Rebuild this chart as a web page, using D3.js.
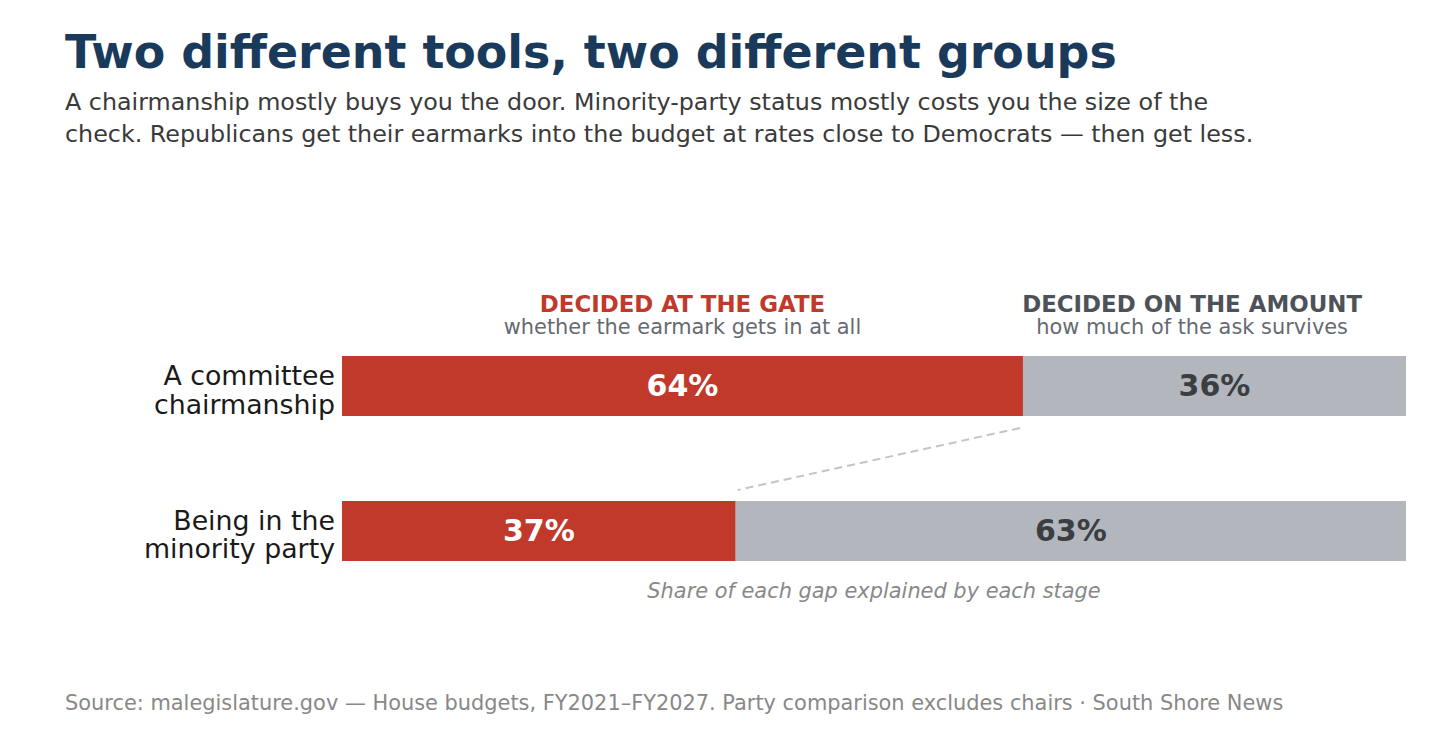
<!DOCTYPE html>
<html><head><meta charset="utf-8">
<script src="https://cdn.jsdelivr.net/npm/d3@7"></script>
<style>
body{margin:0;background:#fff;}
svg{display:block;font-family:"DejaVu Sans",sans-serif;}
</style></head>
<body>
<svg id="c" width="1456" height="735"></svg>
<script>
const categories = [["A committee","chairmanship"],["Being in the","minority party"]];
const gateShare = [64, 37];
const amountShare = [36, 63];
const stageTitles = ["DECIDED AT THE GATE","DECIDED ON THE AMOUNT"];
const stageSubs = ["whether the earmark gets in at all","how much of the ask survives"];

const svg = d3.select("#c");
const x = d3.scaleLinear().domain([0,100]).range([342,1406]);
const y = d3.scaleBand().domain([0,1]).range([356,561]).paddingInner(0.5862).paddingOuter(0);

const red = "#c0392b", grey = "#b3b7bd";

svg.append("text").attr("x",65).attr("y",68).attr("fill","#1a3a5c")
  .attr("font-size",45.9).attr("font-weight","bold").text("Two different tools, two different groups");
const sub = ["A chairmanship mostly buys you the door. Minority-party status mostly costs you the size of the",
  "check. Republicans get their earmarks into the budget at rates close to Democrats — then get less."];
sub.forEach((s,i)=>svg.append("text").attr("x",65).attr("y",110+i*32).attr("fill","#3a3a3a")
  .attr("font-size",23.8).text(s));

// bars
const g = svg.append("g");
categories.forEach((c,i)=>{
  const y0 = y(i), h = y.bandwidth(), cy = y0+h/2;
  g.append("rect").attr("x",x(0)).attr("y",y0).attr("width",x(gateShare[i])-x(0)).attr("height",h).attr("fill",red);
  g.append("rect").attr("x",x(gateShare[i])).attr("y",y0).attr("width",x(100)-x(gateShare[i])).attr("height",h).attr("fill",grey);
  g.append("text").attr("x",(x(0)+x(gateShare[i]))/2).attr("y",cy+10).attr("text-anchor","middle")
    .attr("fill","#fff").attr("font-weight","bold").attr("font-size",30).text(gateShare[i]+"%");
  g.append("text").attr("x",(x(gateShare[i])+x(100))/2).attr("y",cy+10).attr("text-anchor","middle")
    .attr("fill","#3a3d42").attr("font-weight","bold").attr("font-size",30).text(amountShare[i]+"%");
  c.forEach((line,j)=>g.append("text").attr("x",335).attr("y",cy-1+j*28.5)
    .attr("text-anchor","end").attr("fill","#1a1a1a").attr("font-size",26.8).text(line));
});

// connector
svg.append("line").attr("x1",x(gateShare[0])-3).attr("y1",y(0)+y.bandwidth()+12)
  .attr("x2",x(gateShare[1])+2).attr("y2",y(1)-11)
  .attr("stroke","#c4c4c4").attr("stroke-width",2).attr("stroke-dasharray","8,5");

// stage headers
const c1 = (x(0)+x(gateShare[0]))/2;
svg.append("text").attr("x",c1).attr("y",311.5).attr("text-anchor","middle").attr("fill",red)
  .attr("font-weight","bold").attr("font-size",22.9).text(stageTitles[0]);
svg.append("text").attr("x",c1).attr("y",333.5).attr("text-anchor","middle").attr("fill","#666a70")
  .attr("font-size",20.9).text(stageSubs[0]);
const t2 = svg.append("text").attr("x",0).attr("y",311.5).attr("text-anchor","middle").attr("fill","#4d5259")
  .attr("font-weight","bold").attr("font-size",22.9).text(stageTitles[1]);
const hw = t2.node().getComputedTextLength()/2;
const c2 = Math.min((x(gateShare[0])+x(100))/2, x(100)-44-hw);
t2.attr("x",c2);
svg.append("text").attr("x",c2).attr("y",333.5).attr("text-anchor","middle").attr("fill","#666a70")
  .attr("font-size",20.9).text(stageSubs[1]);

svg.append("text").attr("x",(x(0)+x(100))/2).attr("y",598).attr("text-anchor","middle")
  .attr("fill","#888").attr("font-style","italic").attr("font-size",20.9).text("Share of each gap explained by each stage");

svg.append("text").attr("x",65).attr("y",710).attr("fill","#888").attr("font-size",20.9)
  .text("Source: malegislature.gov — House budgets, FY2021–FY2027. Party comparison excludes chairs · South Shore News");
</script>
</body></html>
